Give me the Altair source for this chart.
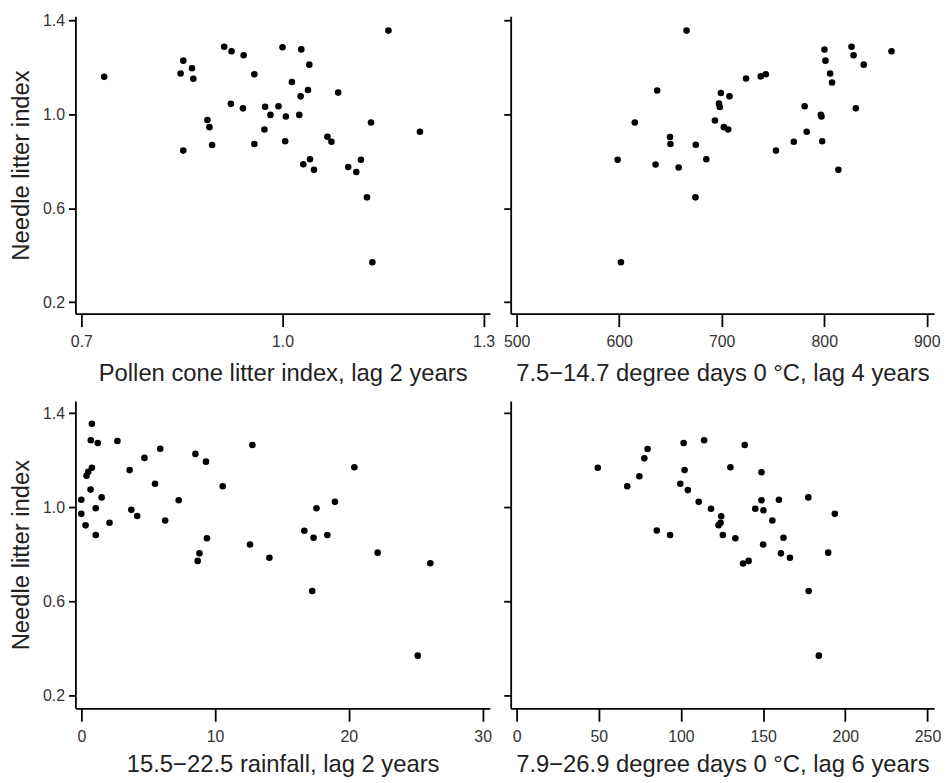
import altair as alt
import pandas as pd

# Panel 1: pollen cone litter index, lag 2 years
p1_x = [0.734, 0.852, 0.848, 0.865, 0.867, 0.913, 0.924, 0.942, 0.958, 1.000, 1.028,
        1.040, 1.158, 1.014, 1.038, 1.027, 1.083, 0.923, 0.941, 0.974, 0.994, 0.982,
        1.005, 1.025, 0.888, 0.891, 0.973, 0.852, 0.895, 0.958, 1.004, 1.132, 1.205,
        1.067, 1.073, 1.031, 1.041, 1.047, 1.098, 1.117, 1.110, 1.126, 1.134]
p1_y = [1.159, 1.228, 1.173, 1.196, 1.151, 1.287, 1.268, 1.251, 1.170, 1.285, 1.276,
        1.211, 1.356, 1.137, 1.103, 1.076, 1.092, 1.044, 1.025, 1.032, 1.034, 0.997,
        0.990, 0.997, 0.975, 0.945, 0.935, 0.845, 0.869, 0.873, 0.885, 0.965, 0.925,
        0.904, 0.883, 0.787, 0.808, 0.763, 0.775, 0.806, 0.754, 0.646, 0.370]

# Panel 2: 7.5-14.7 degree days, lag 4 years
p2_x = [665.7, 826.6, 800.2, 865.6, 828.6, 801.2, 838.5, 805.7, 807.6, 723.7, 738.1,
        743.0, 637.1, 699.2, 707.6, 697.3, 698.2, 780.9, 830.8, 796.7, 797.3, 693.4,
        702.1, 706.3, 615.2, 782.9, 649.6, 650.0, 674.7, 770.3, 798.0, 598.5, 685.0,
        635.5, 658.0, 752.9, 813.8, 674.4, 601.7]
p2_y = [1.356, 1.287, 1.275, 1.268, 1.251, 1.228, 1.211, 1.173, 1.135, 1.152, 1.161,
        1.170, 1.101, 1.090, 1.076, 1.045, 1.031, 1.034, 1.025, 0.997, 0.990, 0.973,
        0.945, 0.935, 0.965, 0.925, 0.903, 0.873, 0.870, 0.883, 0.885, 0.806, 0.808,
        0.786, 0.773, 0.845, 0.763, 0.646, 0.370]

# Panel 3: 15.5-22.5 rainfall, lag 2 years
p3_x = [0.79, 0.71, 1.23, 2.70, 5.90, 4.72, 8.53, 9.32, 12.79, 3.61, 0.79, 0.52, 0.39,
        20.41, 5.51, 10.57, 0.69, 1.52, 0.00, 7.28, 18.96, 1.08, 3.74, 17.58, 0.00,
        4.18, 0.32, 2.11, 6.27, 1.08, 9.39, 16.67, 17.36, 18.39, 12.61, 8.83, 8.70,
        14.06, 22.15, 26.09, 17.26, 25.15]
p3_y = [1.355, 1.285, 1.273, 1.282, 1.249, 1.210, 1.227, 1.194, 1.265, 1.158, 1.168,
        1.151, 1.134, 1.170, 1.100, 1.089, 1.075, 1.042, 1.032, 1.030, 1.023, 0.996,
        0.989, 0.996, 0.972, 0.963, 0.923, 0.934, 0.944, 0.882, 0.868, 0.900, 0.870,
        0.882, 0.842, 0.804, 0.772, 0.785, 0.807, 0.762, 0.644, 0.369]

# Panel 4: 7.9-26.9 degree days, lag 6 years
p4_x = [49.4, 67.3, 74.7, 77.7, 79.7, 101.6, 114.1, 138.8, 102.2, 130.1, 149.0, 99.6,
        104.2, 110.8, 118.3, 124.5, 124.1, 122.9, 125.5, 133.1, 149.0, 159.6, 177.5,
        145.2, 150.2, 155.6, 193.6, 162.4, 150.0, 160.8, 166.3, 189.6, 137.8, 141.2,
        85.3, 93.4, 177.7, 183.9]
p4_y = [1.168, 1.089, 1.132, 1.208, 1.248, 1.273, 1.285, 1.265, 1.158, 1.170, 1.149,
        1.100, 1.073, 1.023, 0.994, 0.962, 0.934, 0.924, 0.882, 0.868, 1.030, 1.032,
        1.042, 0.994, 0.987, 0.944, 0.972, 0.870, 0.842, 0.804, 0.785, 0.807, 0.761,
        0.772, 0.901, 0.882, 0.644, 0.369]

y_ticks = [0.2, 0.6, 1.0, 1.4]
x1_ticks = [0.7, 1.0, 1.3]
x2_ticks = [500, 600, 700, 800, 900]
x3_ticks = [0, 10, 20, 30]
x4_ticks = [0, 50, 100, 150, 200, 250]

titles = ["Pollen cone litter index, lag 2 years",
          "7.5\u221214.7 degree days 0 \u00b0C, lag 4 years",
          "15.5\u221222.5 rainfall, lag 2 years",
          "7.9\u221226.9 degree days 0 \u00b0C, lag 6 years"]
y_title = "Needle litter index"

FONT = "Liberation Sans"


def panel(xs, ys, xdom, xvals, xfmt, ydom, w, h, left, xtitle, tpad):
    df = pd.DataFrame({"x": xs, "y": ys})
    if left:
        yaxis = alt.Axis(values=y_ticks, format=".1f", tickSize=7, labelPadding=4,
                         title=y_title, titlePadding=9)
    else:
        yaxis = alt.Axis(values=y_ticks, tickSize=7, labels=False, title=None)
    return alt.Chart(df).mark_circle(size=44, color="black", opacity=1).encode(
        x=alt.X("x:Q", scale=alt.Scale(domain=xdom, nice=False, zero=False),
                axis=alt.Axis(values=xvals, format=xfmt, tickSize=13, labelPadding=7,
                              title=xtitle, titlePadding=tpad)),
        y=alt.Y("y:Q", scale=alt.Scale(domain=ydom, nice=False, zero=False), axis=yaxis),
    ).properties(width=w, height=h)


top_y = [0.1506, 1.417]
bot_y = [0.145, 1.452]

c1 = panel(p1_x, p1_y, [0.6911, 1.3093], x1_ticks, ".1f", top_y, 418, 300, True, titles[0], 12)
c2 = panel(p2_x, p2_y, [494.2, 907.1], x2_ticks, "d", top_y, 427, 300, False, titles[1], 12)
c3 = panel(p3_x, p3_y, [-0.44, 30.54], x3_ticks, "d", bot_y, 418, 310, True, titles[2], 9)
c4 = panel(p4_x, p4_y, [-3.6, 254.0], x4_ticks, "d", bot_y, 427, 310, False, titles[3], 9)

chart = alt.concat(c1, c2, c3, c4, columns=2,
                   spacing={"row": 88, "column": 21}, bounds="flush").properties(
    padding={"left": 1, "top": 1, "right": 0, "bottom": 6}
).configure_view(strokeWidth=0).configure_axis(
    grid=False,
    domainColor="black", domainWidth=1.8,
    tickColor="black", tickWidth=1.8,
    labelFont=FONT, labelFontSize=16, labelColor="#333333",
    titleFont=FONT, titleFontSize=24, titleFontWeight="normal", titleColor="#222222",
)

chart.save("out.html", embed_options={"renderer": "svg", "actions": False})
